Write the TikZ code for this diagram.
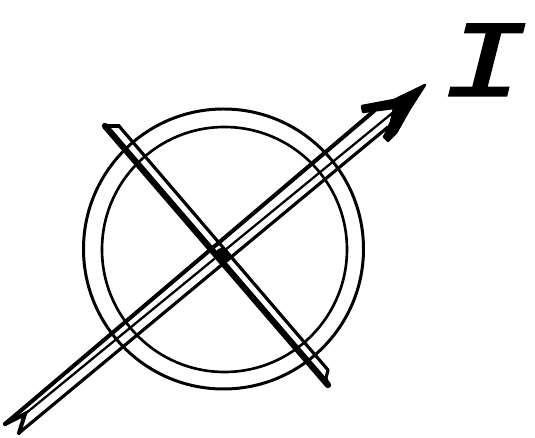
\documentclass[tikz,border=0pt]{standalone}
\usepackage{fontspec}
\newfontfamily\handfont[FakeBold=1.6]{Liberation Mono}
\usetikzlibrary{calc}
\tikzset{
  ring/.style={draw=black, line width=1.7pt},
  shaftline/.style={draw=black, line width=2.3pt, line cap=round},
  thinline/.style={draw=black, line width=1.3pt, line cap=round},
  edgeline/.style={draw=black, line width=1.8pt, line cap=round},
  barline/.style={draw=black, line width=3.6pt, line cap=round},
  tipfill/.style={fill=black, draw=black, line width=1.4pt, line join=round},
  handlabel/.style={font=\handfont\itshape\fontsize{62}{62}\selectfont, inner sep=0pt, xscale=1.3, transform shape}
}
\begin{document}
\begin{tikzpicture}[x=0.02cm, y=-0.02cm]
  \useasboundingbox (0,0) rectangle (535,438);

  % the two rings
  \draw[ring] (223.5,249) circle[radius=140];
  \draw[ring, line width=1.5pt] (224.5,249.5) circle[radius=122.5];

  % arrow shaft, three lines from the forked tail up to the head
  \coordinate (tailup) at (5,424);
  \coordinate (tailmid) at (25,414);
  \coordinate (taildown) at (19,433);
  \coordinate (headup) at (374,111);
  \coordinate (headmid) at (396,110);
  \coordinate (headdown) at (388,127);
  \draw[shaftline] (tailup) -- (headup);
  \draw[thinline] (tailmid) -- (headmid);
  \draw[edgeline] (taildown) -- (headdown);
  \draw[shaftline] (tailup) -- (tailmid) -- (taildown);

  % arrow head
  \coordinate (tip) at (425,85);
  \draw[tipfill] (tip) -- (394,100) -- (362,106) -- (363,112) -- (394,108)
    -- (391,122) -- (384,137) -- (388,141) -- (396,133) -- (409,110) -- cycle;

  % crossing bar, heavy edge and light edge with small end caps
  \coordinate (barup) at (105,126);
  \coordinate (bardown) at (328,385);
  \coordinate (edgeup) at (119,126);
  \coordinate (edgedown) at (328,370);
  \draw[barline] (barup) -- (bardown);
  \draw[edgeline] (edgeup) -- (edgedown);
  \draw[edgeline] (barup) -- (edgeup);
  \draw[edgeline] (edgedown) -- (326,378) -- (bardown);
  \fill (222,255) circle[radius=7];

  % label
  \node[handlabel] (current) at (485,60) {I};
\end{tikzpicture}
\end{document}
